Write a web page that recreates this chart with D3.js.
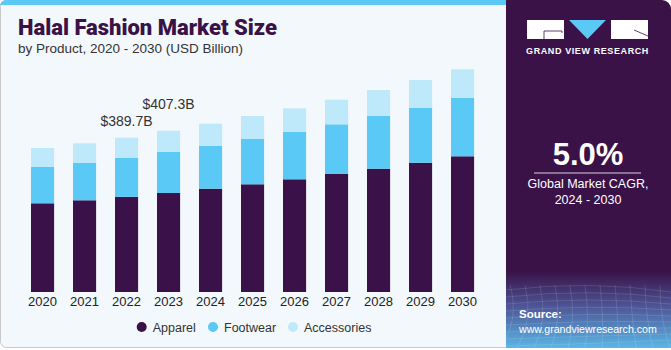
<!DOCTYPE html>
<html>
<head>
<meta charset="utf-8">
<script src="https://cdn.jsdelivr.net/npm/d3@7"></script>
<style>
  body { margin: 0; background: #fff; }
  svg { display: block; }
  text { font-family: "Liberation Sans", Arial, sans-serif; }
</style>
</head>
<body>
<div id="chart"></div>
<script>
const years = ["2020", "2021", "2022", "2023", "2024", "2025", "2026", "2027", "2028", "2029", "2030"];
const apparel = [224.0, 231.6, 240.2, 250.0, 260.9, 272.0, 284.6, 298.0, 311.4, 326.5, 342.7];
const footwear = [91.7, 94.2, 98.2, 103.5, 107.8, 114.4, 119.4, 125.5, 133.0, 138.9, 147.2];
const accessories = [48.0, 49.7, 51.3, 53.8, 56.3, 58.1, 59.8, 62.1, 65.7, 69.9, 72.5];
const seriesNames = ["Apparel", "Footwear", "Accessories"];
const annotations = [{ year: "2022", label: "$389.7B", dy: 12 }, { year: "2023", label: "$407.3B", dy: 22 }];

const W = 671, H = 350;
const colors = d3.scaleOrdinal().domain(seriesNames).range(["#3a1148", "#5bc9f5", "#bde9fa"]);

const svg = d3.select("#chart").append("svg").attr("width", W).attr("height", H);
const defs = svg.append("defs");

// left panel background + border
svg.append("rect").attr("x", 0.5).attr("y", 0.5).attr("width", 520).attr("height", 347)
  .attr("rx", 6).attr("fill", "#f3f8fc").attr("stroke", "#c8c8c8");
svg.append("path").attr("d", "M0,6 A6,6 0 0 1 6,0 L510,0 L510,5 L0,5 Z").attr("fill", "#5bc9f5");

// right panel
const grad = defs.append("linearGradient").attr("id", "srcGrad").attr("x1", 0).attr("y1", 0).attr("x2", 0).attr("y2", 1);
grad.append("stop").attr("offset", "0%").attr("stop-color", "#3a1248");
grad.append("stop").attr("offset", "78%").attr("stop-color", "#3a1248");
grad.append("stop").attr("offset", "88%").attr("stop-color", "#4d5596");
grad.append("stop").attr("offset", "100%").attr("stop-color", "#5ab6e6");
svg.append("path")
  .attr("d", "M506,0 L662,0 A9,9 0 0 1 671,9 L671,348 L506,348 Z")
  .attr("fill", "url(#srcGrad)");

// faint mesh in source area
const mesh = svg.append("g").attr("stroke", "#ffffff").attr("stroke-opacity", 0.12).attr("fill", "none");
d3.range(0, 9).forEach(i => {
  mesh.append("path").attr("d", `M506,${290 + i * 7} Q590,${280 + i * 8} 671,${292 + i * 6}`);
});
d3.range(0, 12).forEach(i => {
  mesh.append("path").attr("d", `M${510 + i * 15},285 Q${520 + i * 14},320 ${500 + i * 17},348`);
});

// logo
const logo = svg.append("g");
logo.append("rect").attr("x", 527).attr("y", 20).attr("width", 37).attr("height", 19).attr("fill", "#fff");
logo.append("path").attr("d", "M544,31 L562,31 L562,33 M544,31 L544,39").attr("stroke", "#3a1248").attr("stroke-width", 0.8).attr("fill", "none");
logo.append("path").attr("d", "M569,20 L606,20 L587.5,39 Z").attr("fill", "#5bc9f5");
logo.append("rect").attr("x", 611).attr("y", 20).attr("width", 37).attr("height", 19).attr("fill", "#fff");
logo.append("path").attr("d", "M634,30 L648,36").attr("stroke", "#3a1248").attr("stroke-width", 0.8);
logo.append("text").attr("x", 587.5).attr("y", 54).attr("text-anchor", "middle")
  .attr("fill", "#fff").style("font-size", "9px").style("font-weight", "bold").style("letter-spacing", "0.6px")
  .text("GRAND VIEW RESEARCH");

// CAGR block
svg.append("text").attr("x", 588).attr("y", 165).attr("text-anchor", "middle").attr("fill", "#fff")
  .style("font-size", "31px").style("font-weight", "bold").text("5.0%");
svg.append("line").attr("x1", 534).attr("x2", 641).attr("y1", 173).attr("y2", 173).attr("stroke", "#d9d0de").attr("stroke-width", 1.2);
svg.append("text").attr("x", 588).attr("y", 188).attr("text-anchor", "middle").attr("fill", "#fff")
  .style("font-size", "12.5px").text("Global Market CAGR,");
svg.append("text").attr("x", 588).attr("y", 204).attr("text-anchor", "middle").attr("fill", "#fff")
  .style("font-size", "12.5px").text("2024 - 2030");

// source
svg.append("text").attr("x", 519).attr("y", 318).attr("fill", "#fff").style("font-size", "11.5px").style("font-weight", "bold").text("Source:");
svg.append("text").attr("x", 519).attr("y", 333).attr("fill", "#fff").style("font-size", "10.6px").text("www.grandviewresearch.com");

// titles
svg.append("text").attr("x", 18).attr("y", 35).attr("fill", "#3a1248")
  .style("font-family", "Roboto, sans-serif").style("font-size", "22px").style("font-weight", 900)
  .text("Halal Fashion Market Size");
svg.append("text").attr("x", 18).attr("y", 53).attr("fill", "#333")
  .style("font-size", "13.5px").text("by Product, 2020 - 2030 (USD Billion)");

// chart
const table = years.map((y, i) => ({ year: y, Apparel: apparel[i], Footwear: footwear[i], Accessories: accessories[i] }));
const stack = d3.stack().keys(seriesNames)(table);

const x = d3.scaleBand().domain(years).range([12.1, 493]).padding(0.45);
const y = d3.scaleLinear().domain([0, 600]).range([292, 292 - 600 * 0.396]);

svg.append("g").selectAll("g").data(stack).join("g")
  .attr("fill", d => colors(d.key))
  .selectAll("rect").data(d => d).join("rect")
  .attr("x", d => x(d.data.year))
  .attr("y", d => y(d[1]))
  .attr("width", x.bandwidth())
  .attr("height", d => y(d[0]) - y(d[1]));

const xAxis = svg.append("g").attr("transform", "translate(0,292)")
  .call(d3.axisBottom(x).tickSize(0).tickPadding(5));
xAxis.select(".domain").remove();
xAxis.selectAll("text").style("font-size", "13px").attr("fill", "#222")
  .style("font-family", "'Liberation Sans', Arial, sans-serif");

const totals = table.map(d => d.Apparel + d.Footwear + d.Accessories);
svg.selectAll(".ann").data(annotations).join("text")
  .attr("class", "ann")
  .attr("x", d => x(d.year) + x.bandwidth() / 2)
  .attr("y", d => y(totals[years.indexOf(d.year)]) - d.dy)
  .attr("text-anchor", "middle").attr("fill", "#333")
  .style("font-size", "14px").text(d => d.label);

// legend
const legendX = [141.7, 213, 293];
const legend = svg.append("g").selectAll("g").data(seriesNames).join("g")
  .attr("transform", (d, i) => `translate(${legendX[i]},327)`);
legend.append("circle").attr("r", 5).attr("fill", d => colors(d));
legend.append("text").attr("x", 11).attr("y", 4.5).attr("fill", "#333").style("font-size", "12.5px").text(d => d);
</script>
</body>
</html>
